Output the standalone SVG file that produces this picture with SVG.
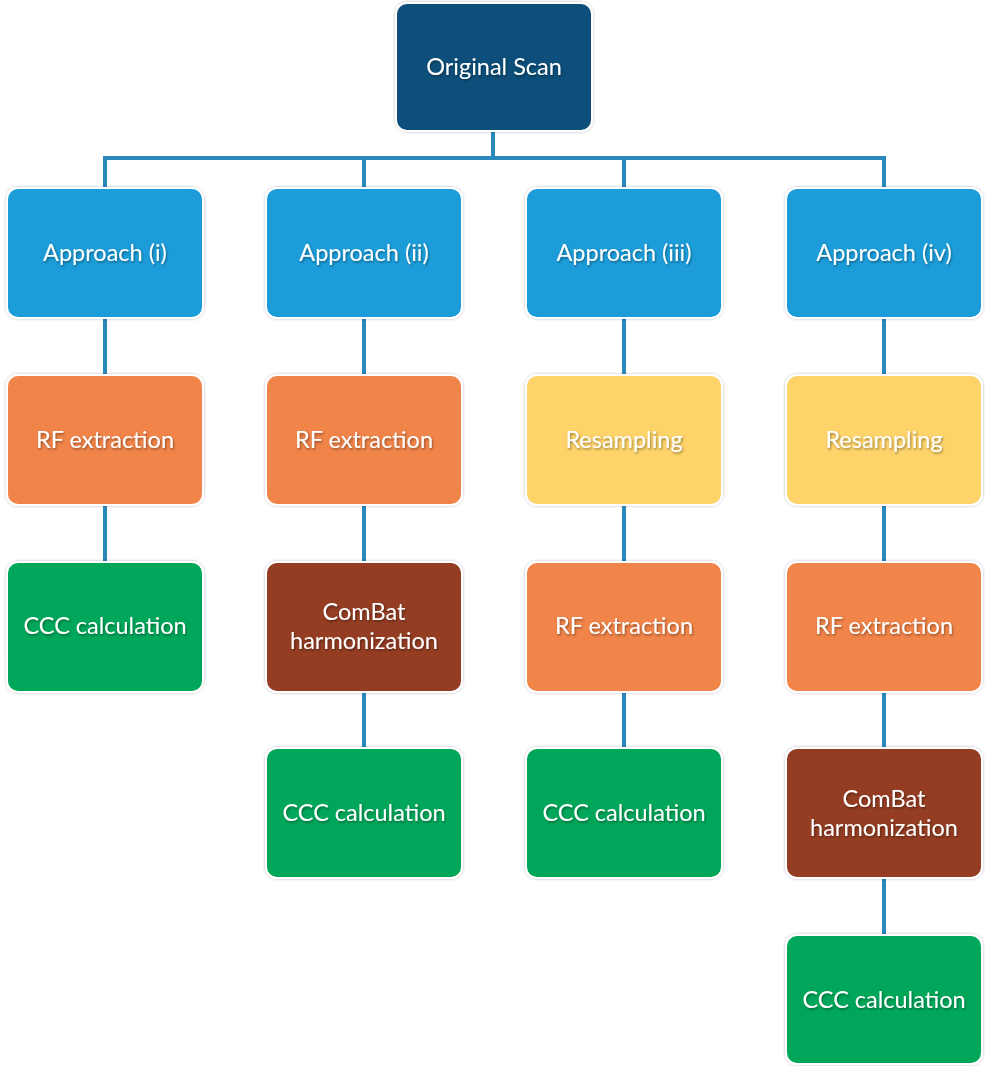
<svg xmlns="http://www.w3.org/2000/svg" width="985" height="1066" viewBox="0 0 985 1066">
<defs>
<filter id="ts" x="-20%" y="-50%" width="140%" height="200%"><feDropShadow dx="1" dy="1.5" stdDeviation="1" flood-color="#000" flood-opacity="0.4"/></filter>
<filter id="bs" x="-10%" y="-10%" width="120%" height="120%"><feDropShadow dx="0" dy="0" stdDeviation="1.5" flood-color="#000" flood-opacity="0.25"/></filter>
</defs>
<style>
.b{stroke:#fff;stroke-width:2;filter:url(#bs)}
.t{font-family:Lato,"Liberation Sans",sans-serif;font-size:23.5px;fill:#fff;text-anchor:middle;filter:url(#ts)}
.c{stroke:#2A88BD;stroke-width:4;fill:none}
.scan{fill:#0A4F7A}.app{fill:#1A9DD9}.rf{fill:#F0844A}.res{fill:#FDD36B}.cb{fill:#943E22}.ccc{fill:#02A75A}
</style>
<rect width="985" height="1066" fill="#fff"/>
<g id="connectors">
<path class="c" d="M493 131V158M103 158H886M105 158V188M364 158V188M624 158V188M884 158V188"/>
<path class="c" d="M105 318V375M105 505V562"/>
<path class="c" d="M364 318V375M364 505V562M364 692V748"/>
<path class="c" d="M624 318V375M624 505V562M624 692V748"/>
<path class="c" d="M884 318V375M884 505V562M884 692V748M884 878V935"/>
</g>
<g id="original-scan"><rect class="b scan" x="396" y="3" width="196" height="128" rx="11"/><text class="t" x="494" y="75">Original Scan</text></g>
<g id="approach-i"><rect class="b app" x="7" y="188" width="196" height="130" rx="11"/><text class="t" x="105" y="261">Approach (i)</text></g>
<g id="approach-ii"><rect class="b app" x="266" y="188" width="196" height="130" rx="11"/><text class="t" x="364" y="261">Approach (ii)</text></g>
<g id="approach-iii"><rect class="b app" x="526" y="188" width="196" height="130" rx="11"/><text class="t" x="624" y="261">Approach (iii)</text></g>
<g id="approach-iv"><rect class="b app" x="786" y="188" width="196" height="130" rx="11"/><text class="t" x="884" y="261">Approach (iv)</text></g>
<g id="rf-i"><rect class="b rf" x="7" y="375" width="196" height="130" rx="11"/><text class="t" x="105" y="448">RF extraction</text></g>
<g id="rf-ii"><rect class="b rf" x="266" y="375" width="196" height="130" rx="11"/><text class="t" x="364" y="448">RF extraction</text></g>
<g id="res-iii"><rect class="b res" x="526" y="375" width="196" height="130" rx="11"/><text class="t" x="624" y="448">Resampling</text></g>
<g id="res-iv"><rect class="b res" x="786" y="375" width="196" height="130" rx="11"/><text class="t" x="884" y="448">Resampling</text></g>
<g id="ccc-i"><rect class="b ccc" x="7" y="562" width="196" height="130" rx="11"/><text class="t" x="105" y="634">CCC calculation</text></g>
<g id="combat-ii"><rect class="b cb" x="266" y="562" width="196" height="130" rx="11"/><text class="t" x="364" y="620">ComBat</text><text class="t" x="364" y="649">harmonization</text></g>
<g id="rf-iii"><rect class="b rf" x="526" y="562" width="196" height="130" rx="11"/><text class="t" x="624" y="634">RF extraction</text></g>
<g id="rf-iv"><rect class="b rf" x="786" y="562" width="196" height="130" rx="11"/><text class="t" x="884" y="634">RF extraction</text></g>
<g id="ccc-ii"><rect class="b ccc" x="266" y="748" width="196" height="130" rx="11"/><text class="t" x="364" y="821">CCC calculation</text></g>
<g id="ccc-iii"><rect class="b ccc" x="526" y="748" width="196" height="130" rx="11"/><text class="t" x="624" y="821">CCC calculation</text></g>
<g id="combat-iv"><rect class="b cb" x="786" y="748" width="196" height="130" rx="11"/><text class="t" x="884" y="807">ComBat</text><text class="t" x="884" y="836">harmonization</text></g>
<g id="ccc-iv"><rect class="b ccc" x="786" y="935" width="196" height="129" rx="11"/><text class="t" x="884" y="1008">CCC calculation</text></g>
</svg>
